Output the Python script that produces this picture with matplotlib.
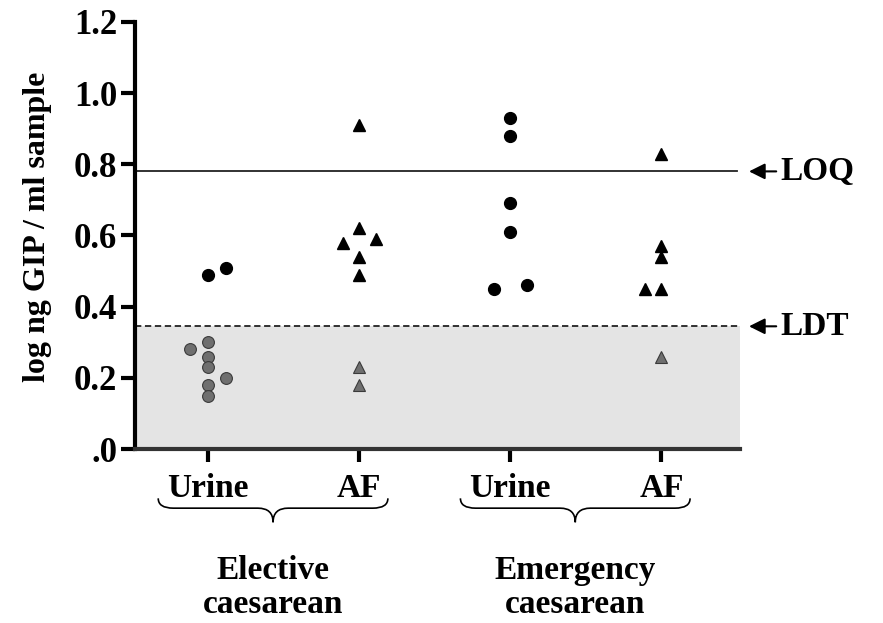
import matplotlib.pyplot as plt
from matplotlib.path import Path
from matplotlib.patches import PathPatch
import matplotlib.transforms as mtransforms

plt.rcParams['font.family'] = ['Liberation Serif', 'DejaVu Serif']
plt.rcParams['font.weight'] = 'bold'

# x positions: 1 = elective urine, 2 = elective AF, 3 = emergency urine, 4 = emergency AF
tick_labels = ["Urine", "AF", "Urine", "AF"]
group_labels = [("Elective", "caesarean"), ("Emergency", "caesarean")]
y_ticks = [0.0, 0.2, 0.4, 0.6, 0.8, 1.0, 1.2]
y_tick_labels = [".0", "0.2", "0.4", "0.6", "0.8", "1.0", "1.2"]

loq = 0.78
ldt = 0.345

# points above the detection limit (black)
elec_urine_x = [1.0, 1.12]
elec_urine_y = [0.49, 0.51]
elec_af_x = [2.0, 1.89, 2.0, 2.11, 2.0, 2.0]
elec_af_y = [0.91, 0.58, 0.62, 0.59, 0.54, 0.49]
emer_urine_x = [3.0, 3.0, 3.0, 3.0, 2.89, 3.11]
emer_urine_y = [0.93, 0.88, 0.69, 0.61, 0.45, 0.46]
emer_af_x = [4.0, 4.0, 4.0, 3.89, 4.0]
emer_af_y = [0.83, 0.57, 0.54, 0.45, 0.45]

# points below the detection limit (grey)
low_urine_x = [0.88, 1.0, 1.0, 1.0, 1.12, 1.0, 1.0]
low_urine_y = [0.28, 0.30, 0.26, 0.23, 0.20, 0.18, 0.15]
low_af_x = [2.0, 2.0, 4.0]
low_af_y = [0.23, 0.18, 0.26]

fig = plt.figure(figsize=(8.83, 6.23), dpi=100)
ax = fig.add_axes([0.153, 0.279, 0.685, 0.686])

x_min, x_max = 0.517, 4.52
ax.set_xlim(x_min, x_max)
ax.set_ylim(0, 1.2)

# shaded region below LDT
ax.fill_between([x_min, x_max], 0, ldt, color='#e4e4e4', zorder=0, lw=0)
ax.plot([x_min, x_max], [ldt, ldt], ls=(0, (3.5, 2)), color='#222222', lw=1.3, clip_on=False)
ax.plot([x_min, 4.5], [loq, loq], color='#222222', lw=1.3, clip_on=False)

ms = 8.5
ax.plot(elec_urine_x, elec_urine_y, 'o', color='black', ms=ms, clip_on=False)
ax.plot(emer_urine_x, emer_urine_y, 'o', color='black', ms=ms, clip_on=False)
ax.plot(elec_af_x, elec_af_y, '^', color='black', ms=ms - 0.5, clip_on=False)
ax.plot(emer_af_x, emer_af_y, '^', color='black', ms=ms - 0.5, clip_on=False)
ax.plot(low_urine_x, low_urine_y, 'o', mfc='#6f6f6f', mec='#3a3a3a', mew=0.8, ms=ms)
ax.plot(low_af_x, low_af_y, '^', mfc='#6f6f6f', mec='#3a3a3a', mew=0.8, ms=ms - 0.5)

# axes styling
for s in ['top', 'right']:
    ax.spines[s].set_visible(False)
ax.spines['left'].set_linewidth(3)
ax.spines['bottom'].set_linewidth(3)
ax.spines['bottom'].set_color('#333333')

ax.set_yticks(y_ticks)
ax.set_yticklabels(y_tick_labels, fontsize=25, fontweight='bold')
ax.set_xticks([1, 2, 3, 4])
ax.set_xticklabels(tick_labels, fontsize=24, fontweight='bold')
ax.tick_params(axis='y', width=3, length=10, pad=3)
ax.tick_params(axis='x', width=3, length=9, pad=8)
ax.set_ylabel("log ng GIP / ml sample", fontsize=23, fontweight='bold')
ax.yaxis.set_label_coords(-0.138, 0.52)

# arrows with LOQ / LDT labels
for yv, txt in [(loq, "LOQ"), (ldt, "LDT")]:
    ax.annotate("", xy=(4.58, yv), xytext=(4.76, yv), xycoords='data',
                arrowprops=dict(arrowstyle='-|>', color='black', lw=1.5,
                                mutation_scale=24, shrinkA=0, shrinkB=0),
                annotation_clip=False)
    ax.text(4.79, yv, txt, fontsize=24, fontweight='bold', va='center', ha='left')

# braces below the category labels
trans = mtransforms.blended_transform_factory(ax.transData, ax.transAxes)
y_top, y_h, y_tip = -0.115, -0.138, -0.171
for (xl, xr), (line1, line2) in zip([(0.67, 2.19), (2.67, 4.19)], group_labels):
    xc = (xl + xr) / 2
    d = 0.1
    verts = [(xl, y_top), (xl, y_h), (xl + d, y_h),
             (xc - d, y_h),
             (xc, y_h), (xc, y_tip),
             (xc, y_h), (xc + d, y_h),
             (xr - d, y_h),
             (xr, y_h), (xr, y_top)]
    codes = [Path.MOVETO, Path.CURVE3, Path.CURVE3,
             Path.LINETO,
             Path.CURVE3, Path.CURVE3,
             Path.CURVE3, Path.CURVE3,
             Path.LINETO,
             Path.CURVE3, Path.CURVE3]
    ax.add_patch(PathPatch(Path(verts, codes), fill=False, lw=1.2, color='black',
                           transform=trans, clip_on=False))
    ax.text(xc, -0.283, line1, transform=trans, ha='center', va='center',
            fontsize=24, fontweight='bold')
    ax.text(xc, -0.363, line2, transform=trans, ha='center', va='center',
            fontsize=24, fontweight='bold')

fig.savefig("out.png", dpi=100)
